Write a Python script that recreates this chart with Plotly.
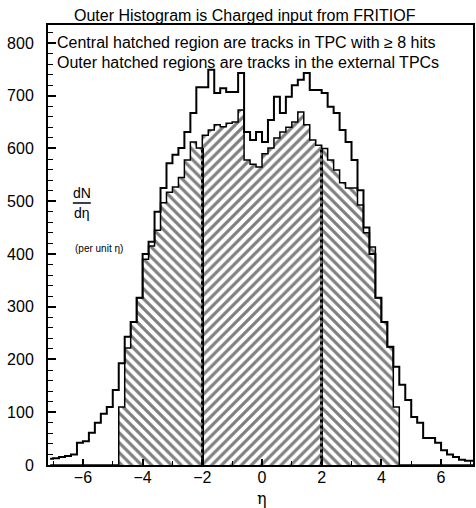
import plotly.graph_objects as go

# ---- data (dN/deta per 0.2 bin, bin centres from -7.1 to 7.1) ----
bin_width = 0.2
eta_centers = [round(-7.1 + bin_width * k, 2) for k in range(72)]

outer_fritiof = [12, 13, 15, 17, 20, 42, 45, 61, 80, 97, 110, 142, 193, 243, 271, 317,
                 400, 423, 480, 525, 572, 588, 601, 631, 667, 716, 716, 749, 705, 714,
                 707, 707, 743, 631, 616, 631, 612, 654, 698, 667, 698, 720, 730, 743,
                 711, 711, 705, 679, 667, 635, 612, 578, 521, 450, 400, 317, 271, 224,
                 186, 152, 123, 91, 80, 51, 51, 42, 28, 20, 15, 10, 8, 8]

tracked = [0, 0, 0, 0, 0, 0, 0, 0, 0, 0, 0, 0, 110, 222, 271, 317,
           390, 415, 445, 497, 517, 527, 545, 578, 612, 601, 625, 635, 645, 641,
           648, 650, 673, 578, 570, 565, 590, 601, 620, 631, 640, 650, 669, 645,
           616, 606, 600, 578, 559, 535, 525, 525, 493, 440, 413, 317, 271, 224,
           110, 0, 0, 0, 0, 0, 0, 0, 0, 0, 0, 0, 0, 0]

central_limit = 2.0   # |eta| < 2 : central TPC region

x_tick_vals = [-6, -4, -2, 0, 2, 4, 6]
y_tick_vals = [0, 100, 200, 300, 400, 500, 600, 700, 800]

FONT = "Liberation Sans"

central_x = [c for c, v in zip(eta_centers, tracked) if v > 0 and abs(c) < central_limit]
central_y = [v for c, v in zip(eta_centers, tracked) if v > 0 and abs(c) < central_limit]
outer_x = [c for c, v in zip(eta_centers, tracked) if v > 0 and abs(c) >= central_limit]
outer_y = [v for c, v in zip(eta_centers, tracked) if v > 0 and abs(c) >= central_limit]

fig = go.Figure()

HATCH_SIZE = 7
HATCH_SOLID = 0.45

# outer hatched regions (external TPCs)
fig.add_trace(go.Bar(
    x=outer_x, y=outer_y, width=bin_width,
    marker=dict(color="white", line=dict(width=0),
                pattern=dict(shape="\\", fgcolor="black", bgcolor="white",
                             size=HATCH_SIZE, solidity=HATCH_SOLID)),
    showlegend=False, hoverinfo="skip"))

# central hatched region (TPC)
fig.add_trace(go.Bar(
    x=central_x, y=central_y, width=bin_width,
    marker=dict(color="white", line=dict(width=0),
                pattern=dict(shape="/", fgcolor="black", bgcolor="white",
                             size=HATCH_SIZE, solidity=HATCH_SOLID)),
    showlegend=False, hoverinfo="skip"))

# overlap strips at the region boundaries
bx = [-central_limit, central_limit]
by = []
for b in bx:
    i = min(range(len(eta_centers)), key=lambda k: abs(eta_centers[k] - (b - bin_width / 2)))
    by.append(min(tracked[i], tracked[i + 1]))
fig.add_trace(go.Bar(
    x=bx, y=by, width=0.08,
    marker=dict(color="black", line=dict(width=0),
                pattern=dict(shape=".", fgcolor="white", bgcolor="black",
                             size=6, solidity=0.25)),
    showlegend=False, hoverinfo="skip"))

# hatched-region outline
fig.add_trace(go.Scatter(
    x=eta_centers, y=tracked, mode="lines", line_shape="hvh",
    line=dict(color="black", width=1.5), showlegend=False, hoverinfo="skip"))

# outer histogram (FRITIOF charged input)
fig.add_trace(go.Scatter(
    x=eta_centers, y=outer_fritiof, mode="lines", line_shape="hvh",
    line=dict(color="black", width=2), showlegend=False, hoverinfo="skip"))

W, H = 476, 508
L, R, T, B = 48, 1, 25, 43
pw, ph = W - L - R, H - T - B


def px(xp):
    return (xp - L) / pw


def py(yp):
    return (H - B - yp) / ph


fig.update_layout(
    width=W, height=H,
    margin=dict(l=L, r=R, t=T, b=B),
    paper_bgcolor="white", plot_bgcolor="white",
    barmode="overlay", bargap=0,
    font=dict(family=FONT, size=16, color="black"),
    xaxis=dict(range=[-7.17, 7.07], tickvals=x_tick_vals,
               ticktext=["\u22126", "\u22124", "\u22122", "0", "2", "4", "6"],
               ticks="inside", ticklen=6, tickwidth=1.5, tickcolor="black",
               minor=dict(dtick=1, ticks="inside", ticklen=4, tickcolor="black", tickwidth=1),
               showline=True, linecolor="black", linewidth=2, mirror=True,
               showgrid=False, zeroline=False, tickfont=dict(size=16),
               ticklabelstandoff=-3),
    yaxis=dict(range=[0, 834], tickvals=y_tick_vals,
               ticks="inside", ticklen=8, tickwidth=1.5, tickcolor="black",
               minor=dict(dtick=20, ticks="inside", ticklen=5, tickcolor="black", tickwidth=1),
               showline=True, linecolor="black", linewidth=2, mirror=True,
               showgrid=False, zeroline=False, tickfont=dict(size=16),
               ticklabelstandoff=9),
)

ann = [
    dict(text="Outer Histogram is Charged input from FRITIOF", x=px(246), y=py(16),
         xanchor="center", yanchor="middle", font=dict(size=16)),
    dict(text="Central hatched region are tracks in TPC with \u2265 8 hits", x=px(55), y=py(43),
         xanchor="left", yanchor="middle", font=dict(size=16)),
    dict(text="Outer hatched regions are tracks in the external TPCs", x=px(55), y=py(63),
         xanchor="left", yanchor="middle", font=dict(size=16)),
    dict(text="dN", x=px(82), y=py(193), xanchor="center", yanchor="middle", font=dict(size=14)),
    dict(text="d\u03b7", x=px(82), y=py(213), xanchor="center", yanchor="middle", font=dict(size=14)),
    dict(text="(per unit \u03b7)", x=px(73), y=py(248), xanchor="left", yanchor="middle",
         font=dict(size=10)),
    dict(text="\u03b7", x=px(263), y=py(498), xanchor="center", yanchor="middle",
         font=dict(size=16, family="DejaVu Serif")),
]
for a in ann:
    a.update(xref="paper", yref="paper", showarrow=False)
fig.update_layout(annotations=ann)

fig.add_shape(type="line", xref="paper", yref="paper",
              x0=px(73), x1=px(91), y0=py(203), y1=py(203),
              line=dict(color="black", width=1.5))

fig.write_html("out.html")
